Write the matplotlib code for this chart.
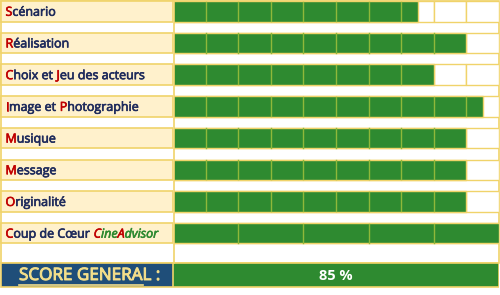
import matplotlib.pyplot as plt
import matplotlib.patheffects as pe
from matplotlib.patches import Rectangle

# data
labels = [
    [("S", "red"), ("cénario", "navy")],
    [("R", "red"), ("éalisation", "navy")],
    [("C", "red"), ("hoix et ", "navy"), ("J", "red"), ("eu des acteurs", "navy")],
    [("I", "red"), ("mage et ", "navy"), ("P", "red"), ("hotographie", "navy")],
    [("M", "red"), ("usique", "navy")],
    [("M", "red"), ("essage", "navy")],
    [("O", "red"), ("riginalité", "navy")],
    [("C", "red"), ("oup de Cœur ", "navy"), ("C", "red_i"), ("ine", "green_i"),
     ("A", "red_i"), ("dvisor", "green_i")],
]
scores = [7.5, 9, 8, 9.5, 9, 9, 9, 10]
n_cells = [10, 10, 10, 10, 10, 10, 10, 5]
score_total = 85

GREEN = "#2e8a30"
DIV = "#8fb83a"
BORDER = "#f0d36a"
CREAM = "#fff1cc"
BLUE = "#1f4e79"
YEL = "#f3de8a"
FONT = "Open Sans"
colors = {"red": "#c00000", "navy": "#1f2b5c", "red_i": "#c00000", "green_i": "#2e8a30"}


def thick(c, lw=0.45):
    # fake a semibold weight
    return [pe.withStroke(linewidth=lw, foreground=c)]


fig = plt.figure(figsize=(5, 2.95), dpi=100)
ax_l = fig.add_axes([0, 0, 173 / 500, 1])
ax_b = fig.add_axes([173 / 500, 0, 326 / 500, 1])
ax_l.set_zorder(2)
for ax in (ax_l, ax_b):
    ax.set_ylim(295, 0)
    ax.axis("off")
ax_l.set_xlim(0, 173)
ax_b.set_xlim(0, 10.0)

pitch, h = 31.7, 20.5
tops = [1 + pitch * i for i in range(len(scores))]

# outer frame
ax_l.add_patch(Rectangle((0.7, 0.5), 173, 262, fc="white", ec=BORDER, lw=1.2, zorder=0, clip_on=False))
ax_b.add_patch(Rectangle((0, 0.5), 9.99, 262, fc="white", ec=BORDER, lw=1.2, zorder=0, clip_on=False))

for i, (segs, sc, nc) in enumerate(zip(labels, scores, n_cells)):
    y = tops[i]
    ax_l.add_patch(Rectangle((0.7, y), 172.3, h, fc=CREAM, ec=BORDER, lw=1.2))
    # empty grid
    w = 10 / nc
    for k in range(nc):
        ax_b.add_patch(Rectangle((k * w, y), w, h, fc="white", ec=BORDER, lw=1.0))
    ax_b.barh(y + h / 2, sc, height=h, left=0, color=GREEN, edgecolor=BORDER, lw=1.0, zorder=2)
    for k in range(1, nc):
        if k * w < sc:
            ax_b.plot([k * w, k * w], [y + 0.6, y + h - 0.6], color=DIV, lw=1.0, zorder=3)
    # label text
    prev = None
    for s, c in segs:
        kw = dict(color=colors[c], fontsize=9, fontweight="normal",
                  family=FONT, style="italic" if c.endswith("_i") else "normal",
                  va="bottom", ha="left", zorder=5, path_effects=thick(colors[c]))
        if prev is None:
            prev = ax_l.text(5.5, y + h / 2 + 7.5, s, **kw)
        else:
            prev = ax_l.annotate(s, xy=(1, 0), xycoords=prev, **kw)

# score row
ys = 263
ax_l.add_patch(Rectangle((0.7, ys), 172.3, 24, fc=BLUE, ec=BORDER, lw=1.2))
ax_b.barh(ys + 12, 10, height=24, left=0, color=GREEN, edgecolor=BORDER, lw=1.2)
t = ax_l.text(19, ys + 13, "SCORE GENERAL", color=YEL, fontsize=12.3,
              family=FONT, va="center", ha="left", path_effects=thick(YEL, 0.7))
ax_l.annotate(" :", xy=(1, 0), xycoords=t, color=YEL, fontsize=12.3,
              family=FONT, va="bottom", ha="left", path_effects=thick(YEL, 0.7))
ax_l.plot([19, 143], [ys + 21.5, ys + 21.5], color=YEL, lw=1.2)
ax_b.text(5, ys + 13, f"{score_total} %", color="white", fontsize=10.5,
          fontweight="bold", family=FONT, va="center", ha="center")

fig.savefig("out.png", dpi=100)
